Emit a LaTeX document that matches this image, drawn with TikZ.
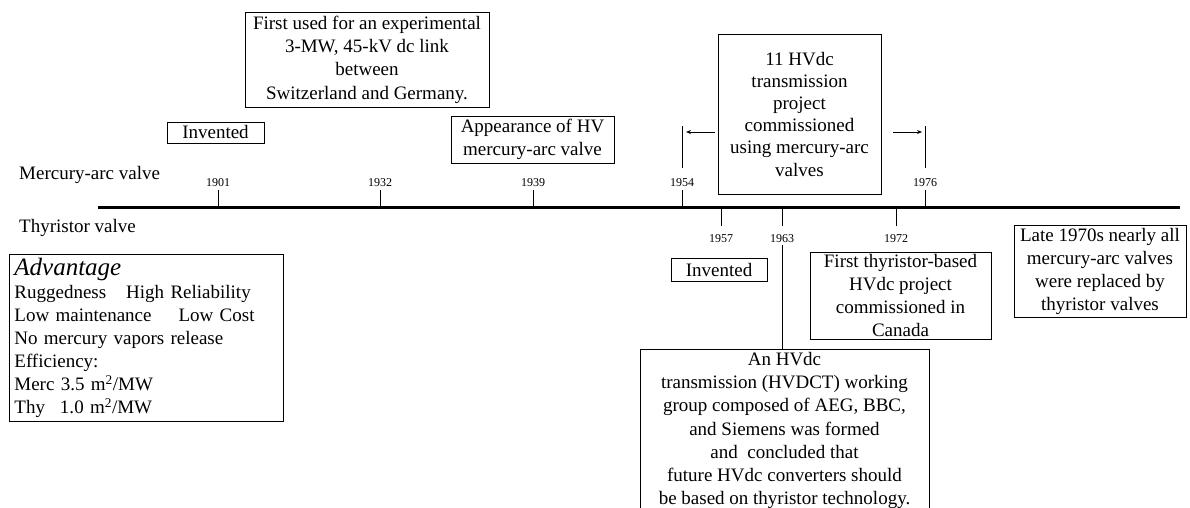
\documentclass[tikz,border=0pt]{standalone}
\usepackage{fontspec}
\setmainfont{LiberationSerif}[Extension=.ttf, UprightFont=*-Regular, ItalicFont=*-Italic, BoldFont=*-Bold, BoldItalicFont=*-BoldItalic]
\usetikzlibrary{arrows.meta}
\begin{document}
\begin{tikzpicture}[x=1pt,y=-1pt,
  every node/.style={inner sep=0pt},
  tbox/.style={draw, line width=0.8pt, align=center, font=\fontsize{19}{22.8}\selectfont},
  yr/.style={anchor=base, font=\fontsize{12}{14}\selectfont},
  tickline/.style={line width=0.8pt},
  lbl/.style={anchor=base west, font=\fontsize{19}{22.8}\selectfont},
  arr/.style={line width=0.8pt, -{Stealth[length=5pt,width=4pt]}}]
\useasboundingbox (0,0) rectangle (1190,508);
\clip (0,0) rectangle (1190,508);

% axis
\coordinate (axL) at (98,207);
\coordinate (axR) at (1180,207);
\draw[line width=3pt] (axL) -- (axR);

% ticks above
\foreach \x/\yy in {218/1901, 380/1932, 533/1939, 682/1954, 925/1976} {
  \draw[tickline] (\x,207) -- (\x,190);
  \node[yr] (y\yy) at (\x,186) {\yy};
}
% ticks below
\foreach \x/\yy in {721/1957, 782/1963, 896/1972} {
  \draw[tickline] (\x,207) -- (\x,226);
  \node[yr] (y\yy) at (\x,242) {\yy};
}

% row labels
\node[lbl] (merc) at (19,179) {Mercury-arc valve};
\node[lbl] (thy) at (19,232) {Thyristor valve};

% boxes above axis
\node[tbox, minimum width=97, minimum height=21] (inv1) at (215.5,132.5) {Invented};
\node[tbox, minimum width=244, minimum height=95, font=\fontsize{19}{23.3}\selectfont] (first) at (367,59.5)
  {First used for an experimental\\ 3-MW, 45-kV dc link\\ between\\ Switzerland and Germany.};
\node[tbox, minimum width=163, minimum height=47] (hv) at (532.5,139.5)
  {Appearance of HV\\ mercury-arc valve};
\node[tbox, minimum width=163, minimum height=160, font=\fontsize{19}{22.2}\selectfont] (hv11) at (799.5,114)
  {11 HVdc\\ transmission\\ project\\ commissioned\\ using mercury-arc\\ valves};

% range markers
\coordinate (u54a) at (682,126);
\coordinate (u54b) at (682,168);
\coordinate (u76a) at (925,126);
\coordinate (u76b) at (925,168);
\draw[tickline] (u54a) -- (u54b);
\draw[tickline] (u76a) -- (u76b);
\coordinate (a54) at (686,132);
\coordinate (a76) at (922,132);
\draw[arr, shorten <=3pt] (hv11.west |- a54) -- (a54);
\draw[arr, shorten <=12pt] (hv11.east |- a76) -- (a76);

% boxes below axis
\node[tbox, minimum width=96, minimum height=23] (inv2) at (719,269.5) {Invented};
\node[tbox, minimum width=181, minimum height=87] (canada) at (900.5,295.5)
  {First thyristor-based\\ HVdc project\\ commissioned in\\ Canada};
\node[tbox, minimum width=172, minimum height=92, font=\fontsize{19}{23}\selectfont] (late) at (1100,271)
  {Late 1970s nearly all\\ mercury-arc valves\\ were replaced by\\ thyristor valves};
\node[tbox, minimum width=289, anchor=north, inner ysep=3pt, font=\fontsize{19}{23.2}\selectfont] (hvdct) at (784.5,349)
  {An HVdc\\ transmission (HVDCT) working\\ group composed of AEG, BBC,\\ and Siemens was formed\\ and\ \ concluded that\\ future HVdc converters should\\ be based on thyristor technology.\rule[-14pt]{0pt}{14pt}};
\draw[tickline] ([yshift=-3pt]y1963.south) -- (y1963.south |- hvdct.north);

% advantage box
\node[draw, line width=0.8pt, anchor=north west, text width=264pt, inner xsep=5pt, inner ysep=4pt,
  align=left, font=\fontsize{19}{23}\selectfont] (adv) at (9,254)
  {{\fontsize{25}{27}\selectfont\itshape Advantage}\\
   Ruggedness\hspace{20pt}High Reliability\\
   Low maintenance\hspace{27pt}Low Cost\\
   No mercury vapors release\\
   Efficiency:\\
   Merc 3.5 m\textsuperscript{2}/MW\\
   Thy\hspace{15pt}1.0 m\textsuperscript{2}/MW};
\end{tikzpicture}
\end{document}
